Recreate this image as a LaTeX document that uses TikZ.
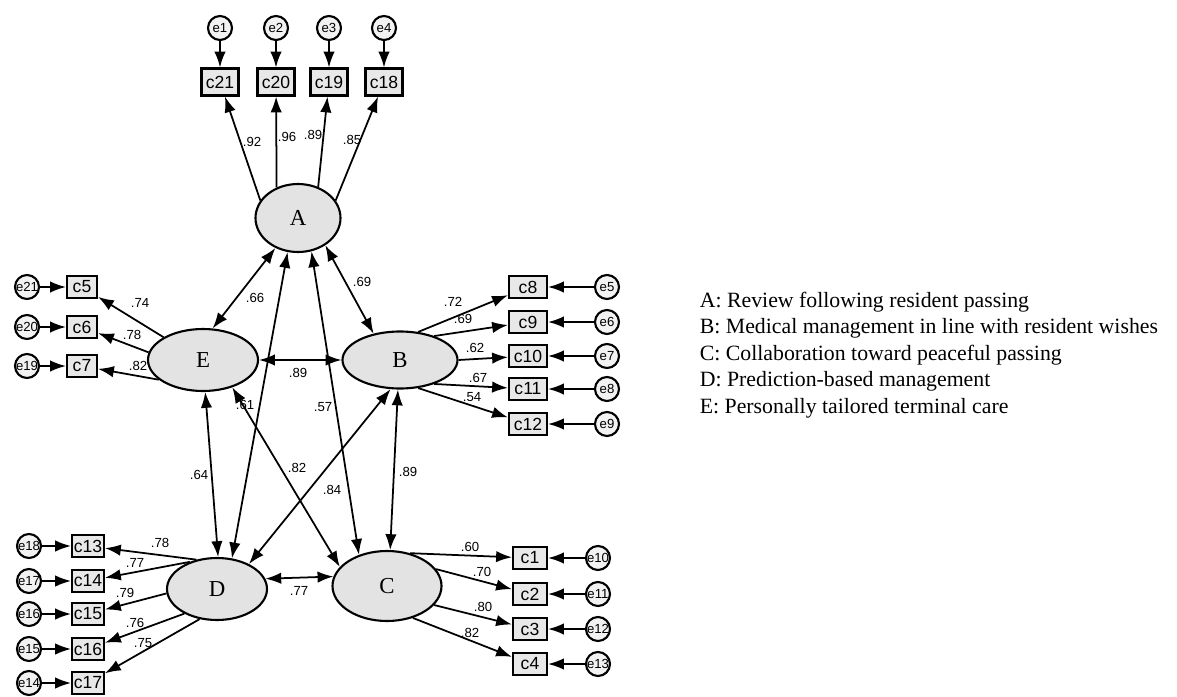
\documentclass[tikz,border=0pt]{standalone}
\usepackage{fontspec}
\setmainfont{Liberation Serif}
\setsansfont{Liberation Sans}
\usetikzlibrary{arrows.meta,shapes.geometric}

\begin{document}
\begin{tikzpicture}[
    >={Latex[length=9pt,width=6.5pt]},
    line width=1pt,
    latent/.style={
        draw=black,
        ellipse,
        line width=1.2pt,
        fill=gray!22,
        inner sep=0pt,
        font=\fontsize{13}{15}\selectfont,
        minimum width=2.2cm,
        minimum height=1.2cm
    },
    obs/.style={
        draw=black,
        line width=1.2pt,
        fill=gray!18,
        inner sep=1pt,
        font=\sffamily\fontsize{10}{12}\selectfont,
        minimum width=0.6cm,
        minimum height=0.44cm
    },
    obstop/.style={
        obs,
        minimum width=0.74cm,
        minimum height=0.54cm
    },
    err/.style={
        draw=black,
        circle,
        line width=1.2pt,
        fill=gray!10,
        inner sep=0pt,
        font=\sffamily\fontsize{7.5}{9}\selectfont,
        minimum size=0.48cm
    },
    coef/.style={
        inner sep=1pt,
        font=\sffamily\fontsize{7.5}{9}\selectfont
    },
    keytext/.style={
        align=left,
        inner sep=0pt,
        font=\fontsize{12.4}{15.1}\selectfont
    }
]
\useasboundingbox (0,0) rectangle (23.54,-13.94);

% latent factors
\node[latent, minimum width=1.7cm, minimum height=1.36cm] (A) at (5.96,-4.36) {A};
\node[latent, minimum width=2.2cm, minimum height=1.24cm] (E) at (4.06,-7.20) {E};
\node[latent, minimum width=2.3cm, minimum height=1.14cm] (B) at (8.00,-7.20) {B};
\node[latent, minimum width=2.0cm, minimum height=1.24cm] (D) at (4.34,-11.78) {D};
\node[latent, minimum width=2.18cm, minimum height=1.4cm] (C) at (7.74,-11.72) {C};

% A indicators
\node[obstop] (c21) at (4.40,-1.64) {c21};
\node[obstop] (c20) at (5.52,-1.64) {c20};
\node[obstop] (c19) at (6.58,-1.64) {c19};
\node[obstop] (c18) at (7.68,-1.64) {c18};
\node[err] (e1) at (4.40,-0.56) {e1};
\node[err] (e2) at (5.52,-0.56) {e2};
\node[err] (e3) at (6.58,-0.56) {e3};
\node[err] (e4) at (7.68,-0.56) {e4};

% E indicators
\node[obs] (c5) at (1.64,-5.74) {c5};
\node[obs] (c6) at (1.64,-6.54) {c6};
\node[obs] (c7) at (1.64,-7.32) {c7};
\node[err] (e21) at (0.54,-5.74) {e21};
\node[err] (e20) at (0.54,-6.54) {e20};
\node[err] (e19) at (0.54,-7.32) {e19};

% B indicators
\node[obs, minimum width=0.76cm] (c8) at (10.56,-5.74) {c8};
\node[obs, minimum width=0.76cm] (c9) at (10.56,-6.44) {c9};
\node[obs, minimum width=0.76cm] (c10) at (10.56,-7.12) {c10};
\node[obs, minimum width=0.76cm] (c11) at (10.56,-7.78) {c11};
\node[obs, minimum width=0.76cm] (c12) at (10.56,-8.48) {c12};
\node[err] (e5) at (12.14,-5.74) {e5};
\node[err] (e6) at (12.14,-6.44) {e6};
\node[err] (e7) at (12.14,-7.12) {e7};
\node[err] (e8) at (12.14,-7.78) {e8};
\node[err] (e9) at (12.14,-8.48) {e9};

% D indicators
\node[obs] (c13) at (1.76,-10.92) {c13};
\node[obs] (c14) at (1.76,-11.62) {c14};
\node[obs] (c15) at (1.76,-12.28) {c15};
\node[obs] (c16) at (1.76,-12.98) {c16};
\node[obs] (c17) at (1.76,-13.66) {c17};
\node[err] (e18) at (0.58,-10.92) {e18};
\node[err] (e17) at (0.58,-11.62) {e17};
\node[err] (e16) at (0.58,-12.28) {e16};
\node[err] (e15) at (0.58,-12.98) {e15};
\node[err] (e14) at (0.58,-13.66) {e14};

% C indicators
\node[obs, minimum width=0.68cm] (c1) at (10.60,-11.16) {c1};
\node[obs, minimum width=0.68cm] (c2) at (10.60,-11.88) {c2};
\node[obs, minimum width=0.68cm] (c3) at (10.60,-12.58) {c3};
\node[obs, minimum width=0.68cm] (c4) at (10.60,-13.28) {c4};
\node[err] (e10) at (11.96,-11.16) {e10};
\node[err] (e11) at (11.96,-11.88) {e11};
\node[err] (e12) at (11.96,-12.58) {e12};
\node[err] (e13) at (11.96,-13.28) {e13};

% error terms
\draw[->] (e1) -- (c21);
\draw[->] (e2) -- (c20);
\draw[->] (e3) -- (c19);
\draw[->] (e4) -- (c18);
\draw[->] (e21) -- (c5);
\draw[->] (e20) -- (c6);
\draw[->] (e19) -- (c7);
\draw[->] (e5) -- (c8);
\draw[->] (e6) -- (c9);
\draw[->] (e7) -- (c10);
\draw[->] (e8) -- (c11);
\draw[->] (e9) -- (c12);
\draw[->] (e18) -- (c13);
\draw[->] (e17) -- (c14);
\draw[->] (e16) -- (c15);
\draw[->] (e15) -- (c16);
\draw[->] (e14) -- (c17);
\draw[->] (e10) -- (c1);
\draw[->] (e11) -- (c2);
\draw[->] (e12) -- (c3);
\draw[->] (e13) -- (c4);

% loadings
\draw[->] (A.155) -- (c21);
\draw[->] (A.125) -- (c20);
\draw[->] (A.57) -- (c19);
\draw[->] (A.25) -- (c18);
\draw[->] (E.150) -- (c5);
\draw[->] (E.172) -- (c6);
\draw[->] (E.204) -- (c7);
\draw[->] (B.57) -- (c8);
\draw[->] (B.35) -- (c9);
\draw[->] (B.east) -- (c10);
\draw[->] (B.325) -- (c11);
\draw[->] (B.303) -- (c12);
\draw[->] (D.125) -- (c13);
\draw[->] (D.135) -- (c14);
\draw[->] (D.185) -- (c15);
\draw[->] (D.217) -- (c16);
\draw[->] (D.240) -- (c17);
\draw[->] (C.55) -- (c1);
\draw[->] (C.19) -- (c2);
\draw[->] (C.338) -- (c3);
\draw[->] (C.309) -- (c4);

% correlations
\draw[<->] (A.233) -- (E.73);
\draw[<->] (A.315) -- (B.135);
\draw[<->] (A.253) -- (D.64);
\draw[<->] (A.292) -- (C.132);
\draw[<->] (E.east) -- (B.west);
\draw[<->] (E.274) -- (D.88);
\draw[<->] (E.317) -- (C.158);
\draw[<->] (B.252) -- (D.38);
\draw[<->] (B.266) -- (C.85);
\draw[<->] (D.12) -- (C.170);

% coefficients
\node[coef] (wc21) at (5.04,-2.84) {.92};
\node[coef] (wc20) at (5.74,-2.74) {.96};
\node[coef] (wc19) at (6.26,-2.70) {.89};
\node[coef] (wc18) at (7.04,-2.80) {.85};
\node[coef] (wc5) at (2.80,-6.06) {.74};
\node[coef] (wc6) at (2.64,-6.70) {.78};
\node[coef] (wc7) at (2.76,-7.32) {.82};
\node[coef] (wc8) at (9.06,-6.04) {.72};
\node[coef] (wc9) at (9.26,-6.38) {.69};
\node[coef] (wc10) at (9.50,-6.96) {.62};
\node[coef] (wc11) at (9.56,-7.56) {.67};
\node[coef] (wc12) at (9.44,-7.94) {.54};
\node[coef] (wc13) at (3.20,-10.86) {.78};
\node[coef] (wc14) at (2.70,-11.26) {.77};
\node[coef] (wc15) at (2.50,-11.86) {.79};
\node[coef] (wc16) at (2.70,-12.46) {.76};
\node[coef] (wc17) at (2.86,-12.86) {.75};
\node[coef] (wc1) at (9.40,-10.94) {.60};
\node[coef] (wc2) at (9.64,-11.44) {.70};
\node[coef] (wc3) at (9.66,-12.14) {.80};
\node[coef] (wc4) at (9.40,-12.66) {.82};
\node[coef] (rAE) at (5.10,-5.96) {.66};
\node[coef] (rAB) at (7.24,-5.64) {.69};
\node[coef] (rEB) at (5.96,-7.46) {.89};
\node[coef] (rAD) at (4.90,-8.10) {.61};
\node[coef] (rAC) at (6.46,-8.14) {.57};
\node[coef] (rED) at (3.98,-9.50) {.64};
\node[coef] (rEC) at (5.94,-9.36) {.82};
\node[coef] (rBD) at (6.64,-9.80) {.84};
\node[coef] (rBC) at (8.16,-9.44) {.89};
\node[coef] (rDC) at (5.98,-11.82) {.77};

% key
\node[keytext, anchor=west] (key) at (13.98,-7.10) {A: Review following resident passing\\
B: Medical management in line with resident wishes\\
C: Collaboration toward peaceful passing\\
D: Prediction-based management\\
E: Personally tailored terminal care};

\end{tikzpicture}
\end{document}
